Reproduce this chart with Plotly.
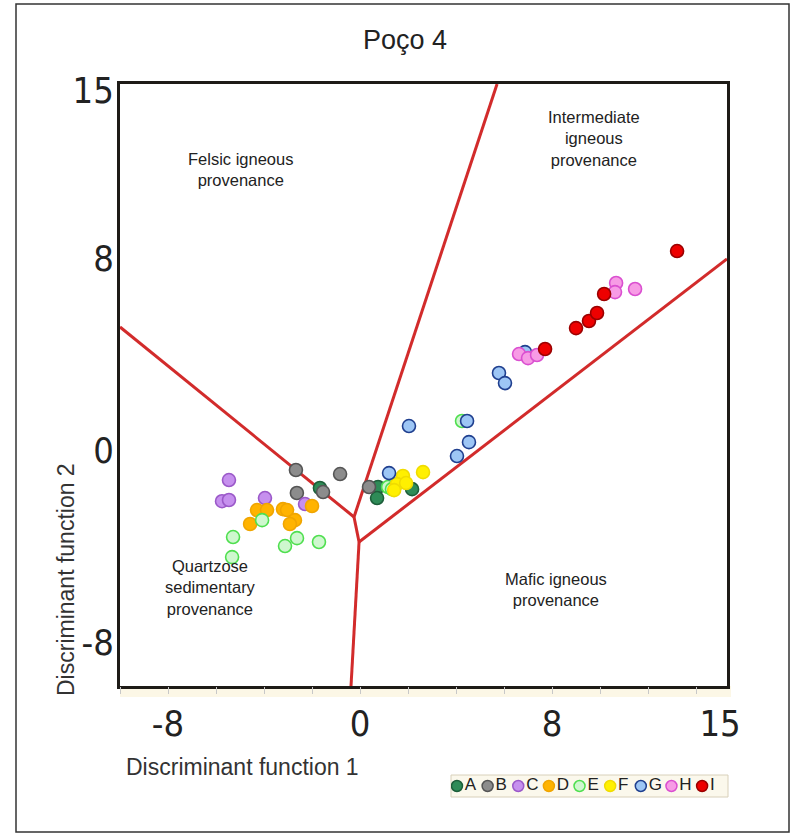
import plotly.graph_objects as go

# ---------------- data ----------------
groups = ["A", "B", "C", "D", "E", "F", "G", "H", "I"]

df1_A = [-1.67, 0.75, 0.71, 2.17]
df2_A = [-1.58, -1.54, -2.00, -1.63]

df1_B = [-2.67, -0.83, -2.63, -1.54, 0.375]
df2_B = [-0.83, -1.00, -1.79, -1.75, -1.54]

df1_C = [-5.46, -5.75, -5.46, -3.96, -2.29]
df2_C = [-1.25, -2.13, -2.08, -2.00, -2.25]

df1_D = [-4.29, -3.875, -4.58, -3.21, -3.04, -2.71, -2.92, -2.00]
df2_D = [-2.50, -2.50, -3.08, -2.46, -2.50, -2.92, -3.08, -2.33]

df1_E = [-4.08, -5.29, -5.33, -3.125, -2.625, -1.71, 1.17, 1.33, 4.25]
df2_E = [-2.92, -3.625, -4.46, -4.00, -3.67, -3.83, -1.54, -1.63, 1.21]

df1_F = [1.79, 1.54, 1.92, 1.42, 2.625]
df2_F = [-1.08, -1.42, -1.375, -1.67, -0.92]

df1_G = [1.21, 2.04, 4.46, 4.54, 4.04, 5.79, 6.04, 6.875]
df2_G = [-0.96, 1.00, 1.21, 0.33, -0.25, 3.21, 2.79, 4.08]

df1_H = [6.625, 7.00, 7.375, 10.67, 10.625, 11.46]
df2_H = [4.00, 3.83, 3.96, 6.96, 6.58, 6.71]

df1_I = [7.71, 9.00, 9.54, 9.875, 10.17, 13.21]
df2_I = [4.21, 5.08, 5.375, 5.71, 6.50, 8.29]

# field boundaries (Roser & Korsch style), segment end points
bound_felsic_quartz_x = [-10.0, -0.25]
bound_felsic_quartz_y = [5.125, -2.79]
bound_felsic_inter_x = [-0.25, 5.71]
bound_felsic_inter_y = [-2.79, 15.25]
bound_center_x = [-0.25, -0.04]
bound_center_y = [-2.79, -3.83]
bound_inter_mafic_x = [-0.04, 15.29]
bound_inter_mafic_y = [-3.83, 7.96]
bound_quartz_mafic_x = [-0.04, -0.375]
bound_quartz_mafic_y = [-3.83, -9.83]

x_range = [-10.0, 15.29]
y_range = [-9.83, 15.25]
x_ticklabels = [-8, 0, 8, 15]
y_ticklabels = [15, 8, 0, -8]
x_minor_ticks = [-10, -8, -6, -4, -2, 0, 2, 4, 6, 8, 10, 12, 14]

# ---------------- styles ----------------
fills = {"A": "#2E8B57", "B": "#8C8C8C", "C": "#C690EE", "D": "#FFB300",
         "E": "#CFF7CF", "F": "#FFF000", "G": "#9DC6F5", "H": "#F79BE5",
         "I": "#EE0000"}
edges = {"A": "#1D5E3A", "B": "#555555", "C": "#9B59C9", "D": "#F0A500",
         "E": "#4FDF4F", "F": "#F0DC00", "G": "#1F3F8F", "H": "#DA4FD0",
         "I": "#9B0000"}
xs = {"A": df1_A, "B": df1_B, "C": df1_C, "D": df1_D, "E": df1_E,
      "F": df1_F, "G": df1_G, "H": df1_H, "I": df1_I}
ys = {"A": df2_A, "B": df2_B, "C": df2_C, "D": df2_D, "E": df2_E,
      "F": df2_F, "G": df2_G, "H": df2_H, "I": df2_I}

RED = "#D22B2B"
TXT = "#222222"
FONT = "Liberation Sans, Arial, sans-serif"
NARROW = "Liberation Sans Narrow, DejaVu Sans Condensed, Arial Narrow, sans-serif"

fig = go.Figure()

# boundary lines
for bx, by in [(bound_felsic_quartz_x, bound_felsic_quartz_y),
               (bound_felsic_inter_x, bound_felsic_inter_y),
               (bound_center_x, bound_center_y),
               (bound_inter_mafic_x, bound_inter_mafic_y),
               (bound_quartz_mafic_x, bound_quartz_mafic_y)]:
    fig.add_trace(go.Scatter(x=bx, y=by, mode="lines",
                             line=dict(color=RED, width=3),
                             showlegend=False, hoverinfo="skip"))

# samples
for g in groups:
    fig.add_trace(go.Scatter(
        x=xs[g], y=ys[g], mode="markers", name=g, showlegend=False,
        marker=dict(size=13, color=fills[g],
                    line=dict(color=edges[g], width=1.6))))

# custom legend drawn on its own small axis
fig.add_trace(go.Scatter(
    x=list(range(len(groups))), y=[0.5] * len(groups),
    mode="markers+text", text=groups, textposition="middle right",
    textfont=dict(family=FONT, size=17, color=TXT),
    marker=dict(size=11, color=[fills[g] for g in groups],
                line=dict(color=[edges[g] for g in groups], width=1.5)),
    xaxis="x3", yaxis="y3", showlegend=False, hoverinfo="skip"))

# minor tick marks axis (ticks only)
fig.add_trace(go.Scatter(x=[x_range[0]], y=[y_range[0]], mode="markers",
                         marker=dict(opacity=0), xaxis="x2", yaxis="y",
                         showlegend=False, hoverinfo="skip"))

# paper mapping helpers: plot area 120..727 px, paper y from py=800 (0) to 84 (1)
def px(x):
    return (x - 120) / 607.0

def py(y):
    return (800 - y) / 716.0

main_bottom = py(686)

fig.update_layout(
    width=805, height=838, autosize=False,
    margin=dict(l=120, r=78, t=84, b=38),
    paper_bgcolor="white", plot_bgcolor="white",
    showlegend=False,
    xaxis=dict(domain=[0, 1], range=x_range, anchor="y",
               showgrid=False, zeroline=False,
               showline=True, mirror=True, linecolor="#1E1B17", linewidth=3,
               tickvals=x_ticklabels, ticktext=[str(v) for v in x_ticklabels],
               ticks="", ticklabelstandoff=4,
               tickfont=dict(family=NARROW, size=36, color=TXT)),
    xaxis2=dict(overlaying="x", anchor="y", side="bottom", range=x_range,
                showgrid=False, zeroline=False, showline=False,
                tickvals=x_minor_ticks, ticks="outside", ticklen=7,
                tickwidth=1, tickcolor="#C8C8C8", showticklabels=False),
    yaxis=dict(domain=[main_bottom, 1], range=y_range, anchor="x",
               showgrid=False, zeroline=False,
               showline=True, mirror=True, linecolor="#1E1B17", linewidth=3,
               tickvals=y_ticklabels, ticktext=[str(v) for v in y_ticklabels],
               ticks="", ticklabelstandoff=-4,
               tickfont=dict(family=NARROW, size=36, color=TXT)),
    xaxis3=dict(domain=[px(451), 1.0], range=[-0.195, 8.813], anchor="y3",
                visible=False, fixedrange=True),
    yaxis3=dict(domain=[py(797), py(775)], range=[0, 1], anchor="x3",
                visible=False, fixedrange=True),
)

shapes = [
    # outer frame
    dict(type="rect", xref="paper", yref="paper",
         x0=px(16), x1=px(789), y0=py(832), y1=py(4),
         line=dict(color="#333333", width=1.5), fillcolor="rgba(0,0,0,0)",
         layer="below"),
    # cream strip under x axis
    dict(type="rect", xref="paper", yref="paper",
         x0=0, x1=px(731), y0=py(697), y1=main_bottom,
         line=dict(width=0), fillcolor="#FCF7E6", layer="below"),
    # legend box
    dict(type="rect", xref="paper", yref="paper",
         x0=px(451), x1=px(728), y0=py(797), y1=py(775),
         line=dict(color="#D8D0BA", width=1), fillcolor="#FBF8EC",
         layer="below"),
]
fig.update_layout(shapes=shapes)

def pann(text, x, y, size, color=TXT, angle=0):
    return dict(text=text, x=px(x), y=py(y), xref="paper", yref="paper",
                xanchor="center", yanchor="middle", showarrow=False,
                textangle=angle, font=dict(family=FONT, size=size, color=color))

def dann(text, x, y):
    return dict(text=text, x=x, y=y, xref="x", yref="y",
                xanchor="center", yanchor="middle", showarrow=False,
                font=dict(family=FONT, size=16.5, color=TXT))

ann = [
    pann("Poço 4", 405, 40, 27),
    pann("Discriminant function 1", 242, 767, 23, "#333333"),
    pann("Discriminant function 2", 66, 580, 23, "#333333", -90),
    dann("Felsic igneous<br>provenance", -5.0, 11.7),
    dann("Intermediate<br>igneous<br>provenance", 9.75, 12.96),
    dann("Quartzose<br>sedimentary<br>provenance", -6.25, -5.71),
    dann("Mafic igneous<br>provenance", 8.17, -5.83),
]
fig.update_layout(annotations=ann)

fig.write_html("out.html",
               config={"displayModeBar": False},
               post_script="document.body.style.margin='0';"
                           "document.body.style.padding='0';")
